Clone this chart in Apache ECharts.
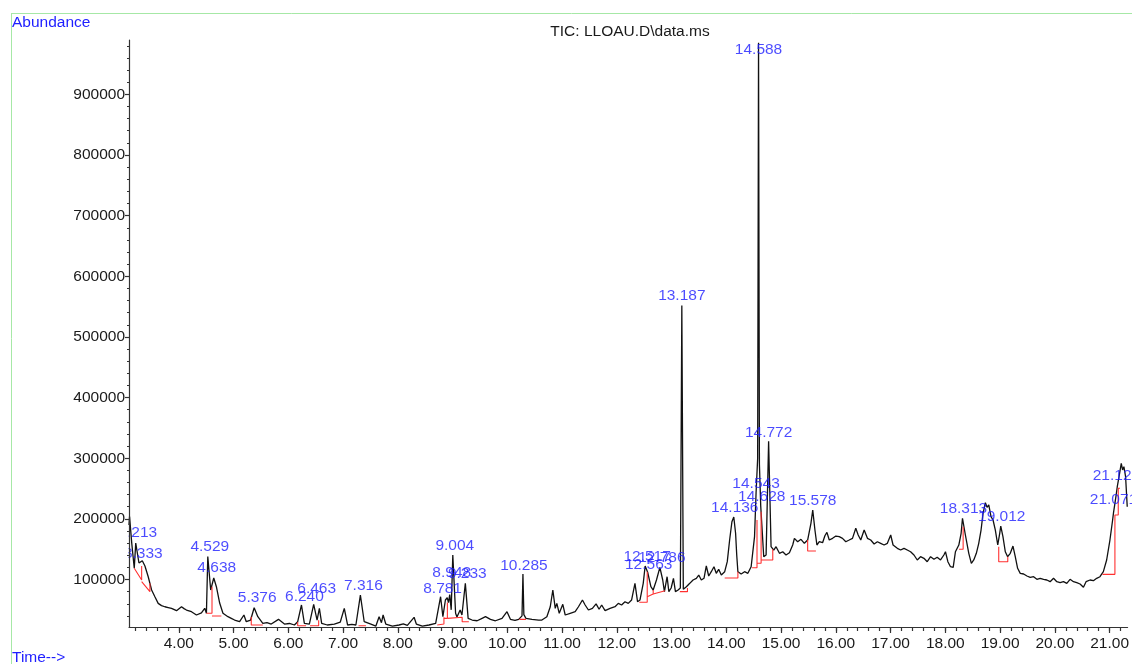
<!DOCTYPE html>
<html>
<head>
<meta charset="utf-8">
<script src="https://cdn.jsdelivr.net/npm/echarts@6/dist/echarts.min.js"></script>
<style>
html,body{margin:0;padding:0;background:#fff}
#chart{width:1132px;height:664px}
</style>
</head>
<body>
<div id="chart"></div>
<script>
// Total ion current trace: retention time (min) and abundance, between the integrated peaks
const traceTime = [
  3.09, 3.10, 3.14, 3.186, 3.272, 3.308, 3.381, 3.441, 3.503, 3.563, 3.623, 3.684, 3.745, 3.806, 3.867, 3.958,
  4.049, 4.095, 4.140, 4.231, 4.322, 4.413, 4.473, 4.504, 4.582, 4.686, 4.746, 4.806, 4.897, 4.958,
  5.019, 5.110, 5.189, 5.232, 5.311, 5.443, 5.534, 5.610, 5.688, 5.820, 5.929,
  6.020, 6.111, 6.171, 6.293, 6.384, 6.525, 6.567, 6.609, 6.712, 6.840, 6.949,
  7.022, 7.082, 7.160, 7.234, 7.386, 7.508, 7.599, 7.658, 7.701, 7.731, 7.780, 7.901,
  8.023, 8.100, 8.174, 8.297, 8.338, 8.447, 8.569, 8.691, 8.823, 8.869, 8.902, 8.925, 8.975,
  9.055, 9.080, 9.138, 9.171, 9.284, 9.357, 9.448, 9.539, 9.601, 9.692, 9.783, 9.903, 9.994,
  10.056, 10.140, 10.207, 10.268, 10.302, 10.340, 10.449, 10.571, 10.631, 10.722, 10.784, 10.831, 10.875, 10.904, 10.948,
  11.013, 11.057, 11.148, 11.239, 11.299, 11.372, 11.421, 11.481, 11.554, 11.621, 11.676, 11.723, 11.785, 11.876, 11.967,
  12.027, 12.087, 12.149, 12.209, 12.269, 12.331, 12.378, 12.422, 12.482, 12.622, 12.664, 12.724, 12.838, 12.869, 12.918, 12.950, 12.992,
  13.034, 13.070, 13.119, 13.160, 13.214, 13.270, 13.332, 13.392, 13.452, 13.496, 13.543, 13.592, 13.634, 13.678, 13.725, 13.774, 13.816, 13.860, 13.908, 13.970,
  14.017, 14.060, 14.102, 14.169, 14.190, 14.211, 14.271, 14.333, 14.393, 14.453, 14.515, 14.572, 14.604, 14.683, 14.726, 14.817, 14.866, 14.908, 14.970,
  15.030, 15.090, 15.152, 15.212, 15.243, 15.303, 15.363, 15.425, 15.485, 15.545, 15.618, 15.654, 15.698, 15.758, 15.800, 15.837, 15.880, 15.940,
  16.000, 16.062, 16.122, 16.182, 16.244, 16.304, 16.364, 16.408, 16.455, 16.517, 16.577, 16.637, 16.699, 16.759, 16.819, 16.881, 16.941,
  17.002, 17.045, 17.123, 17.183, 17.245, 17.305, 17.365, 17.427, 17.487, 17.547, 17.609, 17.669, 17.730, 17.792, 17.851, 17.912, 17.973,
  18.002, 18.046, 18.094, 18.143, 18.184, 18.246, 18.288, 18.366, 18.428, 18.475, 18.519, 18.566, 18.610, 18.652, 18.689, 18.731, 18.762, 18.793, 18.834, 18.871, 18.913, 18.957, 18.993,
  19.052, 19.095, 19.138, 19.186, 19.235, 19.277, 19.320, 19.368, 19.430, 19.490, 19.550, 19.612, 19.672, 19.732, 19.794, 19.854, 19.914, 19.976,
  20.036, 20.096, 20.158, 20.218, 20.278, 20.340, 20.400, 20.460, 20.522, 20.570, 20.642, 20.704, 20.764, 20.824, 20.886, 20.946,
  21.006, 21.055, 21.097, 21.140, 21.177, 21.213, 21.237, 21.261, 21.292, 21.322
];
const traceAbundance = [
  190000, 204000, 160000, 118500, 127200, 127000, 122300, 104600, 82700, 71600, 60700, 57000, 55100, 53800, 52500, 48600,
  55100, 52000, 49700, 46900, 41500, 45000, 52500, 44300, 82700, 88100, 61200, 44300, 38700, 36000,
  33200, 30400, 41500, 30400, 33200, 38700, 27800, 29000, 26600, 34300, 26600,
  27500, 25000, 30400, 27800, 26600, 33200, 52500, 27800, 25000, 26600, 29900,
  52500, 25000, 26000, 25000, 30400, 26600, 23300, 38700, 28800, 41500, 26600, 23300,
  25000, 26800, 24500, 37700, 26600, 23300, 25000, 27800, 38700, 66200, 70000, 62000, 50000,
  44300, 38200, 49700, 41500, 36000, 33200, 32000, 36000, 38700, 34300, 32000, 36000, 46900,
  34300, 32500, 34300, 40000, 42000, 36000, 34300, 33200, 33200, 38700, 55100, 82700, 52500, 60700, 44300,
  59100, 41500, 44300, 46900, 55100, 66200, 58000, 49700, 52500, 59900, 50900, 58000, 48600, 52500, 55100,
  60700, 58000, 63400, 60700, 66200, 93700, 63400, 66200, 93700, 88100, 82700, 99200, 99200, 80000, 104600, 80000, 86000,
  102000, 80000, 82700, 86000, 84000, 88100, 93700, 99200, 102000, 107400, 99200, 102000, 122300, 105800, 112900, 121100, 110200, 116800, 107400, 112900,
  129400, 165100, 195300, 176200, 140000, 112900, 109000, 112900, 110200, 121100, 170600, 300000, 290000, 137600, 140400, 154100, 148600, 154100, 143200,
  145800, 140400, 144200, 156900, 167900, 162300, 166300, 159700, 165100, 192700, 181600, 156900, 162300, 160700, 172200, 177800, 165100, 167900,
  171700, 170600, 167900, 162300, 165100, 167900, 184400, 173400, 165100, 181600, 167900, 165100, 158500, 162300, 159700, 156900, 159700,
  173400, 156900, 151400, 148600, 151400, 148600, 145800, 140400, 132200, 137600, 135000, 129400, 137600, 133300, 136600, 132200, 140400,
  145800, 129400, 121100, 120100, 145800, 156900, 176200, 173400, 143200, 126700, 132200, 143200, 159700, 181600, 209200, 226700, 219100, 222900, 203600, 198100, 181600, 156900, 176200,
  170600, 145800, 137600, 143200, 155200, 137600, 118500, 110200, 109100, 105800, 103600, 104600, 100300, 102000, 100300, 99200, 96400, 102000,
  96400, 94700, 96400, 93700, 100300, 96400, 94700, 92600, 87100, 96400, 99200, 98000, 102000, 104600, 112900, 132200,
  165100, 198100, 225600, 253000, 272300, 291600, 280600, 286000, 269500, 220000
];

// Integrated peaks: apex retention time (min) and apex abundance
const peakTimes = [
  3.213, 3.333, 4.529, 4.638, 5.376, 6.240, 6.463, 7.316, 8.781, 8.948, 9.004, 9.233, 10.285,
  12.517, 12.563, 12.786, 13.187, 14.136, 14.543, 14.588, 14.628, 14.772, 15.578, 18.313, 19.012, 21.071, 21.125
];
const peakHeights = [
  160000, 131000, 138000, 102500, 53500, 58000, 59100, 74400, 71600, 75000, 140400, 93700, 109000,
  122300, 112000, 120100, 552000, 203000, 243000, 985000, 221000, 328000, 214600, 201000, 188200, 210000, 243000
];

// Integration baselines and drop lines, one polyline of [time, abundance] per event
const baselines = [
  [[3.186, 118500], [3.321, 99200], [3.321, 122300]],
  [[3.321, 96400], [3.472, 79900], [3.472, 93700]],
  [[4.504, 44300], [4.606, 44300], [4.606, 88000]],
  [[4.606, 39800], [4.777, 39800]],
  [[5.323, 38700], [5.323, 25000], [5.534, 25000]],
  [[6.171, 30000], [6.171, 23800], [6.324, 23800]],
  [[6.397, 23800], [6.554, 23800], [6.554, 33000]],
  [[7.282, 23800], [7.417, 23800]],
  [[8.720, 25000], [8.842, 26600], [8.842, 37700]],
  [[8.842, 36000], [8.905, 36000], [8.905, 62000]],
  [[8.905, 36000], [9.175, 37700], [9.175, 30400], [9.297, 30400]],
  [[10.220, 34300], [10.340, 34300]],
  [[12.410, 62400], [12.555, 62400], [12.555, 113000]],
  [[12.555, 71600], [12.664, 76000], [12.664, 82700]],
  [[12.664, 76000], [12.880, 81500]],
  [[13.150, 80000], [13.290, 80000], [13.290, 86000]],
  [[13.970, 102500], [14.211, 102500], [14.211, 112900]],
  [[14.470, 119500], [14.560, 119500], [14.560, 198000]],
  [[14.560, 126700], [14.635, 126700], [14.635, 211800]],
  [[14.635, 132200], [14.848, 132200], [14.848, 150000]],
  [[15.485, 165000], [15.485, 147000], [15.636, 147000]],
  [[18.250, 149800], [18.325, 149800], [18.325, 187000]],
  [[18.975, 154000], [18.975, 129400], [19.140, 129400], [19.140, 137600]],
  [[20.870, 108500], [21.097, 108500], [21.097, 206400], [21.158, 206400], [21.158, 250400], [21.190, 250400]]
];

// Axis ticks
const xMajorTicks = [4, 5, 6, 7, 8, 9, 10, 11, 12, 13, 14, 15, 16, 17, 18, 19, 20, 21];
const xMinorTicks = [];
for (let i = 16; i <= 106; i++) xMinorTicks.push(+(i * 0.2).toFixed(1));
const yMajorTicks = [100000, 200000, 300000, 400000, 500000, 600000, 700000, 800000, 900000];
const yMinorTicks = [];
for (let i = 2; i <= 49; i++) yMinorTicks.push(i * 20000);

// Pixel nudges for the peak annotations [dx, dy]
const labelNudge = [
  [2, -10], [1, -7], [2, -9.5], [3, -10], [3, -10], [3, -8], [3, -16], [3, -9], [2, -8.5], [2, -22], [2, -9], [2, -10], [1, -8],
  [2, -9], [1, -8], [2, -10], [0, -10], [1, -9], [0, -9.5], [0, 6.5], [1, -9.5], [0, -8.5], [0, -9.5], [1, -9.5], [1, -9], [0, -13], [0, -17]
];

const FONT = 'Arial, "Liberation Sans", sans-serif';
const BLUE = '#1e1eff';
const X_MIN = 3.09, X_MAX = 21.328, Y_MIN = 21700, Y_MAX = 989600;

// merge the trace with the peak apices, ordered by time
const tracePoints = traceTime.map((t, i) => [t, traceAbundance[i]])
  .concat(peakTimes.map((t, i) => [t, peakHeights[i]]))
  .sort((a, b) => a[0] - b[0]);

const chart = echarts.init(document.getElementById('chart'), null, { renderer: 'canvas' });

const baseAxisX = { type: 'value', min: X_MIN, max: X_MAX, position: 'bottom', splitLine: { show: false } };
const baseAxisY = { type: 'value', min: Y_MIN, max: Y_MAX, position: 'left', splitLine: { show: false }, z: 60 };

const option = {
  animation: false,
  backgroundColor: '#ffffff',
  grid: { left: 129, right: 1, top: 40, bottom: 37 },
  xAxis: [
    Object.assign({}, baseAxisX, {
      axisLine: { show: true, lineStyle: { color: '#333', width: 1.2 } },
      axisTick: { show: true, customValues: xMajorTicks, length: 6, lineStyle: { color: '#333', width: 1.2 } },
      axisLabel: { show: true, customValues: xMajorTicks, formatter: v => v.toFixed(2), fontSize: 15.5, fontFamily: FONT, color: '#1a1a1a', margin: 9 }
    }),
    Object.assign({}, baseAxisX, {
      axisLine: { show: false },
      axisTick: { show: true, customValues: xMinorTicks, length: 4, lineStyle: { color: '#333', width: 1.2 } },
      axisLabel: { show: false }
    })
  ],
  yAxis: [
    Object.assign({}, baseAxisY, {
      axisLine: { show: true, lineStyle: { color: '#333', width: 1.2 } },
      axisTick: { show: true, customValues: yMajorTicks, length: 4, lineStyle: { color: '#333', width: 1.2 } },
      axisLabel: { show: true, customValues: yMajorTicks, formatter: v => String(v), fontSize: 15.5, fontFamily: FONT, color: '#1a1a1a', margin: 4 }
    }),
    Object.assign({}, baseAxisY, {
      axisLine: { show: false },
      axisTick: { show: true, customValues: yMinorTicks, length: 2, lineStyle: { color: '#333', width: 1.2 } },
      axisLabel: { show: false }
    })
  ],
  graphic: [
    { type: 'line', shape: { x1: 11, y1: 13.5, x2: 1132, y2: 13.5 }, style: { stroke: '#a6e8a6', lineWidth: 1 }, z: 1 },
    { type: 'line', shape: { x1: 11.5, y1: 13, x2: 11.5, y2: 664 }, style: { stroke: '#a6e8a6', lineWidth: 1 }, z: 1 },
    { type: 'text', x: 12, y: 22.5, style: { text: 'Abundance', fill: BLUE, font: '15.5px ' + FONT, textAlign: 'left', textVerticalAlign: 'middle', align: 'left', verticalAlign: 'middle' }, z: 1 },
    { type: 'text', x: 12, y: 658, style: { text: 'Time-->', fill: BLUE, font: '15.5px ' + FONT, textAlign: 'left', textVerticalAlign: 'middle', align: 'left', verticalAlign: 'middle' }, z: 1 },
    { type: 'text', x: 630, y: 32, style: { text: 'TIC: LLOAU.D\\data.ms', fill: '#1a1a1a', font: '15.5px ' + FONT, textAlign: 'center', textVerticalAlign: 'middle', align: 'center', verticalAlign: 'middle' }, z: 1 },
    // keeps annotations from spilling past the abundance axis
    { type: 'rect', shape: { x: 40, y: 527, width: 88.5, height: 38 }, style: { fill: '#ffffff' }, z: 50 }
  ],
  series: [
    {
      name: 'TIC', type: 'line', data: tracePoints, symbol: 'none', showSymbol: false,
      lineStyle: { color: '#111', width: 1.3 }, clip: true, z: 3, silent: true
    }
  ].concat(baselines.map(seg => ({
    type: 'line', data: seg, symbol: 'none', showSymbol: false,
    lineStyle: { color: '#ff3030', width: 1.1 }, clip: true, z: 4, silent: true
  }))).concat([
    {
      name: 'peaks', type: 'scatter', symbolSize: 1, itemStyle: { color: 'rgba(0,0,0,0)' }, z: 6, silent: true,
      data: peakTimes.map((t, i) => ({
        value: [t, peakHeights[i]],
        label: { offset: labelNudge[i] }
      })),
      label: {
        show: true, position: 'inside', color: BLUE, fontSize: 15.5, fontFamily: FONT,
        formatter: p => p.value[0].toFixed(3)
      }
    }
  ])
};

chart.setOption(option);
</script>
</body>
</html>
